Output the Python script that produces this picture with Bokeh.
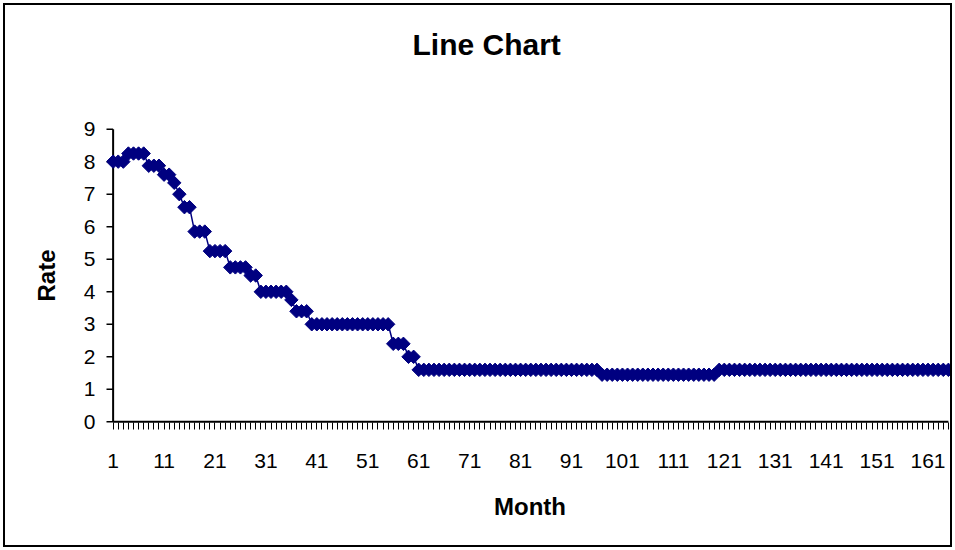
from math import pi
from bokeh.plotting import figure
from bokeh.models import Range1d, FixedTicker, Title
from bokeh.embed import file_html
from bokeh.resources import INLINE

# ---- data ----
months = list(range(1, 166))
rates = [
    8.0, 8.0, 8.0,
    8.25, 8.25, 8.25, 8.25,
    7.875, 7.875, 7.875,
    7.6, 7.6,
    7.35,
    7.0,
    6.6, 6.6,
    5.85, 5.85, 5.85,
    5.25, 5.25, 5.25, 5.25,
    4.75, 4.75, 4.75, 4.75,
    4.5, 4.5,
    4.0, 4.0, 4.0, 4.0, 4.0, 4.0,
    3.75,
    3.4, 3.4, 3.4,
    3.0, 3.0, 3.0, 3.0, 3.0, 3.0, 3.0, 3.0,
    3.0, 3.0, 3.0, 3.0, 3.0, 3.0, 3.0, 3.0,
    2.4, 2.4, 2.4,
    2.0, 2.0,
    1.6, 1.6, 1.6, 1.6, 1.6, 1.6, 1.6, 1.6, 1.6,
    1.6, 1.6, 1.6, 1.6, 1.6, 1.6, 1.6, 1.6, 1.6,
    1.6, 1.6, 1.6, 1.6, 1.6, 1.6, 1.6, 1.6, 1.6,
    1.6, 1.6, 1.6, 1.6, 1.6, 1.6, 1.6, 1.6, 1.6,
    1.45, 1.45, 1.45, 1.45, 1.45, 1.45, 1.45, 1.45,
    1.45, 1.45, 1.45, 1.45, 1.45, 1.45, 1.45, 1.45,
    1.45, 1.45, 1.45, 1.45, 1.45, 1.45, 1.45,
    1.6, 1.6, 1.6, 1.6, 1.6, 1.6, 1.6, 1.6, 1.6, 1.6,
    1.6, 1.6, 1.6, 1.6, 1.6, 1.6, 1.6, 1.6, 1.6, 1.6,
    1.6, 1.6, 1.6, 1.6, 1.6, 1.6, 1.6, 1.6, 1.6, 1.6,
    1.6, 1.6, 1.6, 1.6, 1.6, 1.6, 1.6, 1.6, 1.6, 1.6,
    1.6, 1.6, 1.6, 1.6, 1.6, 1.6,
]
x_tick_labels = ["1", "11", "21", "31", "41", "51", "61", "71", "81",
                 "91", "101", "111", "121", "131", "141", "151", "161"]
y_ticks = [0, 1, 2, 3, 4, 5, 6, 7, 8, 9]

FONT = "Liberation Sans"
NAVY = "#000080"

p = figure(width=949, height=544, output_backend="svg", toolbar_location=None,
           title=None,
           x_range=Range1d(-0.3, 166.0), y_range=Range1d(-0.05, 9.05),
           min_border_left=101, min_border_right=1,
           min_border_top=122, min_border_bottom=126,
           styles={"margin": "3px 0px 0px 3px", "border": "2px solid black"})
p.grid.visible = False
p.outline_line_color = None
p.background_fill_color = "white"
p.border_fill_color = "white"

# title (a blank spacer panel keeps it high above the plot area)
p.add_layout(Title(text=" ", text_font_size="10px", standoff=49), "above")
p.add_layout(Title(text="Line Chart", align="left", offset=306, standoff=10,
                   text_font=FONT, text_font_style="bold", text_font_size="30px",
                   text_color="black"), "above")

# x axis (category ticks at every month, labels every 10)
xa = p.xaxis[0]
xa.ticker = FixedTicker(ticks=months)
xa.major_label_overrides = {m: (str(m) if str(m) in x_tick_labels else "") for m in months}
xa.axis_line_color = None
xa.major_tick_in = 1
xa.major_tick_out = 6
xa.major_tick_line_color = "black"
xa.major_tick_line_width = 1
xa.minor_tick_line_color = None
xa.major_label_text_font = FONT
xa.major_label_text_font_size = "21px"
xa.major_label_text_color = "black"
xa.major_label_standoff = 24
xa.axis_label = "Month"
xa.axis_label_text_font = FONT
xa.axis_label_text_font_style = "bold"
xa.axis_label_text_font_size = "24px"
xa.axis_label_text_color = "black"
xa.axis_label_standoff = 22

# y axis (labels only; line and ticks drawn at month 1 below)
ya = p.yaxis[0]
ya.ticker = FixedTicker(ticks=y_ticks)
ya.axis_line_color = None
ya.major_tick_in = 0
ya.major_tick_out = 0
ya.minor_tick_line_color = None
ya.major_label_text_font = FONT
ya.major_label_text_font_size = "21px"
ya.major_label_text_color = "black"
ya.major_label_standoff = 11
ya.axis_label = "Rate"
ya.axis_label_text_font = FONT
ya.axis_label_text_font_style = "bold"
ya.axis_label_text_font_size = "24px"
ya.axis_label_text_color = "black"
ya.axis_label_standoff = 21

# axis lines through the first / last category, and y tick marks
p.segment(x0=[months[0]], y0=[y_ticks[0]], x1=[months[0]], y1=[y_ticks[-1]],
          line_color="black", line_width=2)
p.segment(x0=[months[0]], y0=[y_ticks[0]], x1=[months[-1]], y1=[y_ticks[0]],
          line_color="black", line_width=2)
p.segment(x0=[-1.0] * len(y_ticks), y0=y_ticks, x1=[months[0]] * len(y_ticks), y1=y_ticks,
          line_color="black", line_width=1.5)

# series
p.line(months, rates, line_color=NAVY, line_width=1.5)
p.scatter(months, rates, marker="square", angle=pi / 4, size=9.5,
          fill_color=NAVY, line_color=NAVY)

open("out.html", "w").write(file_html(p, INLINE))
